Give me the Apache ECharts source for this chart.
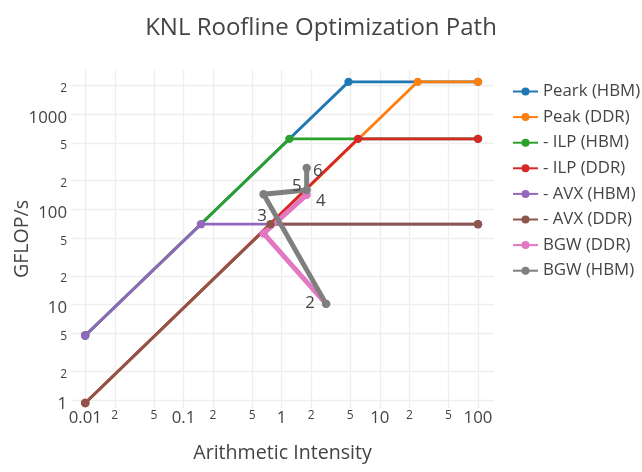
<!DOCTYPE html>
<html><head><meta charset="utf-8">
<script src="https://cdn.jsdelivr.net/npm/echarts@6/dist/echarts.min.js"></script>
<style>html,body{margin:0;padding:0;background:#fff}#c{width:642px;height:472px}</style>
</head><body><div id="c"></div>
<script>
// ---- data ----
const seriesNames = ['Peark (HBM)', 'Peak (DDR)', '- ILP (HBM)', '- ILP (DDR)', '- AVX (HBM)', '- AVX (DDR)', 'BGW (DDR)', 'BGW (HBM)'];
const peakHBM_ai = [0.01, 4.8, 100];
const peakHBM_gf = [4.75, 2180, 2180];
const peakDDR_ai = [0.01, 24.3, 100];
const peakDDR_gf = [0.93, 2180, 2180];
const ilpHBM_ai = [0.01, 1.2, 100];
const ilpHBM_gf = [4.75, 550, 550];
const ilpDDR_ai = [0.01, 6.0, 100];
const ilpDDR_gf = [0.93, 550, 550];
const avxHBM_ai = [0.01, 0.151, 100];
const avxHBM_gf = [4.75, 70, 70];
const avxDDR_ai = [0.01, 0.77, 100];
const avxDDR_gf = [0.93, 70, 70];
const bgwDDR_ai = [2.84, 0.655, 1.80];
const bgwDDR_gf = [10.2, 56, 142];
const bgwDDR_text = ['2', '3', '4'];
const bgwHBM_ai = [2.84, 0.655, 1.80, 1.80];
const bgwHBM_gf = [10.2, 144, 160, 272];
const bgwHBM_text = ['', '', '5', '6'];
const xTicks = [0.01, 0.02, 0.05, 0.1, 0.2, 0.5, 1, 2, 5, 10, 20, 50, 100];
const xTickLabels = ['0.01', '2', '5', '0.1', '2', '5', '1', '2', '5', '10', '2', '5', '100'];
const yTicks = [1, 2, 5, 10, 20, 50, 100, 200, 500, 1000, 2000];
const yTickLabels = ['1', '2', '5', '10', '2', '5', '100', '2', '5', '1000', '2'];

// ---- styles ----
const colors = ['#1f77b4', '#ff7f0e', '#2ca02c', '#d62728', '#9467bd', '#8c564b', '#e377c2', '#7f7f7f'];
const FONT = '"Open Sans", "Noto Sans", sans-serif';
const bgwDDR_offsets = [[-16, -1], [-1.5, -17.5], [14, 6]];
const bgwHBM_offsets = [[0, 0], [0, 0], [-10, -3.5], [11, 3]];

const lg = Math.log10;
function pts(ai, gf) { return ai.map((a, i) => [lg(a), lg(gf[i])]); }
function labeled(ai, gf, text, offs) {
  return ai.map((a, i) => ({
    value: [lg(a), lg(gf[i])],
    label: text[i] ? { show: true, formatter: text[i], position: 'inside', offset: offs[i],
      fontSize: 16.8, color: '#444', fontFamily: FONT } : { show: false }
  }));
}
function tickFmt(ticks, labels) {
  return function (v) {
    for (let i = 0; i < ticks.length; i++) {
      const t = lg(ticks[i]);
      if (Math.abs(t - v) < 1e-6) {
        const major = Math.abs(t - Math.round(t)) < 1e-6;
        return (major ? '{a|' : '{b|') + labels[i] + '}';
      }
    }
    return '';
  };
}

const rawSeries = [
  [peakHBM_ai, peakHBM_gf], [peakDDR_ai, peakDDR_gf], [ilpHBM_ai, ilpHBM_gf], [ilpDDR_ai, ilpDDR_gf],
  [avxHBM_ai, avxHBM_gf], [avxDDR_ai, avxDDR_gf]
];
const series = rawSeries.map((s, i) => ({
  name: seriesNames[i], type: 'line', data: pts(s[0], s[1]),
  symbol: 'circle', symbolSize: 8.4, showAllSymbol: true,
  lineStyle: { width: 2.8, color: colors[i] }, itemStyle: { color: colors[i] },
  emphasis: { disabled: true }, z: 2
}));
series.push({
  name: seriesNames[6], type: 'line', data: labeled(bgwDDR_ai, bgwDDR_gf, bgwDDR_text, bgwDDR_offsets),
  symbol: 'circle', symbolSize: 8.4, lineStyle: { width: 5, color: colors[6] }, itemStyle: { color: colors[6] },
  emphasis: { disabled: true }, z: 2
});
series.push({
  name: seriesNames[7], type: 'line', data: labeled(bgwHBM_ai, bgwHBM_gf, bgwHBM_text, bgwHBM_offsets),
  symbol: 'circle', symbolSize: 8.4, lineStyle: { width: 5, color: colors[7] }, itemStyle: { color: colors[7] },
  emphasis: { disabled: true }, z: 2
});

const chart = echarts.init(document.getElementById('c'), null, { renderer: 'canvas' });
chart.setOption({
  animation: false,
  backgroundColor: '#fff',
  color: colors,
  textStyle: { fontFamily: FONT, color: '#444' },
  title: { text: 'KNL Roofline Optimization Path', left: 'center', top: 11,
    textStyle: { fontSize: 24, fontWeight: 'normal', color: '#444', fontFamily: FONT } },
  legend: {
    orient: 'vertical', left: 507, top: 78, itemWidth: 25, itemHeight: 10, itemGap: 8.6, itemTextGap: 5,
    textStyle: { fontSize: 16.8, lineHeight: 17, color: '#444', fontFamily: FONT },
    data: seriesNames
  },
  grid: { left: 71, right: 148, top: 70, bottom: 64, containLabel: false, outerBoundsMode: 'none' },
  xAxis: {
    type: 'value', min: -2.145, max: 2.163,
    axisLine: { show: false }, axisTick: { show: false, customValues: xTicks.map(lg) },
    axisLabel: { customValues: xTicks.map(lg), formatter: tickFmt(xTicks, xTickLabels), margin: 2,
      color: '#444', fontFamily: FONT,
      rich: { a: { fontSize: 16.8, color: '#444', fontFamily: FONT }, b: { fontSize: 12, color: '#444', fontFamily: FONT } } },
    splitLine: { show: true, lineStyle: { color: '#eeeeee', width: 1.4 } },
    name: 'Arithmetic Intensity', nameLocation: 'middle', nameGap: 35, nameMoveOverlap: false,
    nameTextStyle: { fontSize: 19.6, color: '#444', fontFamily: FONT }
  },
  yAxis: {
    type: 'value', min: -0.084, max: 3.463,
    axisLine: { show: false }, axisTick: { show: false, customValues: yTicks.map(lg) },
    axisLabel: { customValues: yTicks.map(lg), formatter: tickFmt(yTicks, yTickLabels), margin: 4,
      color: '#444', fontFamily: FONT,
      rich: { a: { fontSize: 16.8, color: '#444', fontFamily: FONT, padding: [8, 0, 0, 0] },
              b: { fontSize: 12, color: '#444', fontFamily: FONT, padding: [6, 0, 0, 0] } } },
    splitLine: { show: true, lineStyle: { color: '#eeeeee', width: 1.4 } },
    name: 'GFLOP/s', nameLocation: 'middle', nameGap: 39, nameMoveOverlap: false,
    nameTextStyle: { fontSize: 19.6, color: '#444', fontFamily: FONT }
  },
  series: series
});
</script>
</body></html>
